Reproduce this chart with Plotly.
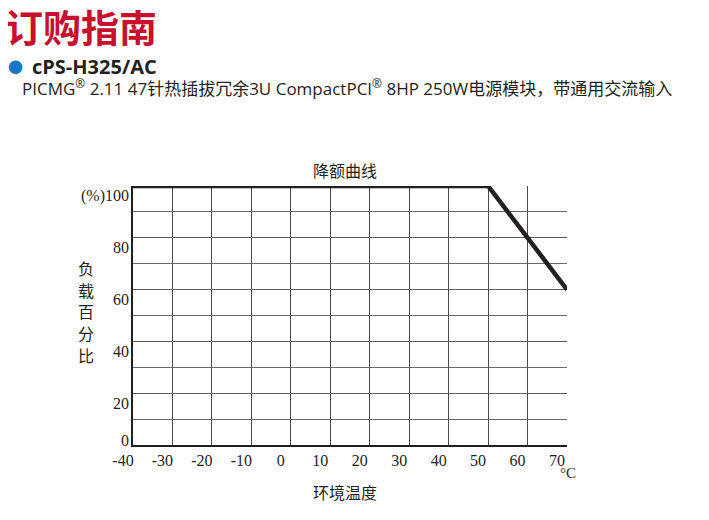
import plotly.graph_objects as go

# Data
temps = [-40, 50, 70]
load_pct = [100, 100, 60]
x_ticks = [-40, -30, -20, -10, 0, 10, 20, 30, 40, 50, 60, 70]
y_ticks = [0, 20, 40, 60, 80, 100]
y_tick_labels = ["0", "20", "40", "60", "80", "(%)100"]

header = "订购指南"
model = "cPS-H325/AC"
subtitle = "PICMG<sup>®</sup> 2.11 47针热插拔冗余3U CompactPCI<sup>®</sup> 8HP 250W电源模块，带通用交流输入"
chart_title = "降额曲线"
x_title = "环境温度"
y_title = "负载百分比"
unit = "°C"

INK = "#231f20"
SERIF = "Liberation Serif, Times New Roman, serif"
SANS = "Noto Sans CJK SC, Noto Sans, sans-serif"

# page offset (body margin) compensation
OX, OY = 8, 8
L, T, W, H = 133 - OX, 186 - OY, 434, 259

def px(x):
    return (x - OX - L) / W

def py(y):
    return 1 - (y - OY - T) / H

fig = go.Figure()
fig.add_trace(go.Scatter(
    x=temps, y=load_pct, mode="lines",
    line=dict(color=INK, width=4.5),
    cliponaxis=False, showlegend=False, hoverinfo="skip",
))

fig.update_layout(
    width=709, height=520,
    margin=dict(l=L, r=709 - L - W, t=T, b=520 - T - H),
    paper_bgcolor="white", plot_bgcolor="white",
    showlegend=False,
)
fig.update_xaxes(
    range=[-40, 70], tickmode="array", tickvals=x_ticks,
    ticktext=[str(v) for v in x_ticks],
    showgrid=True, gridcolor="#4a4a4a", gridwidth=1,
    showline=True, linecolor=INK, linewidth=2,
    zeroline=False, ticks="", ticklabelshift=-10, ticklabelstandoff=0,
    tickfont=dict(family=SERIF, size=16, color=INK),
)
fig.update_yaxes(
    range=[0, 100], tickmode="array", tickvals=y_ticks,
    showticklabels=False,
    showgrid=True, gridcolor="#5a5a5a", gridwidth=1,
    minor=dict(dtick=10, showgrid=True, gridcolor="#6a6a6a", gridwidth=1),
    showline=True, linecolor=INK, linewidth=1.5,
    zeroline=False, ticks="",
)

# y tick labels, sitting just under their grid lines as in the original
for v, lab in zip(y_ticks, y_tick_labels):
    fig.add_annotation(text=lab, xref="paper", yref="y", x=0, y=v,
                       xanchor="right", yanchor="middle", xshift=-2,
                       yshift=(5 if v == 0 else -10), showarrow=False,
                       font=dict(family=SERIF, size=16, color=INK))

def note(text, x, y, size, color=INK, family=SANS, xanchor="center"):
    fig.add_annotation(text=text, xref="paper", yref="paper",
                       x=px(x), y=py(y), xanchor=xanchor, yanchor="middle",
                       showarrow=False, align="center",
                       font=dict(family=family, size=size, color=color))

note(f"<b>{header}</b>", 3, 26, 38, color="#c8102e", xanchor="left")
note("●", 15, 66, 15, color="#1479c4")
note(f"<b>{model}</b>", 30, 66, 20, family="Open Sans, Noto Sans, sans-serif", xanchor="left")
note(subtitle, 20, 88, 17, family="Open Sans, Noto Sans CJK SC, sans-serif", xanchor="left")
note(chart_title, 345, 170, 16)
note(x_title, 345, 492, 16)
note(unit, 568, 473, 15, family=SERIF)
for i, ch in enumerate(y_title):
    note(ch, 86, 268 + 21.7 * i, 16)

fig.write_html("out.html")
